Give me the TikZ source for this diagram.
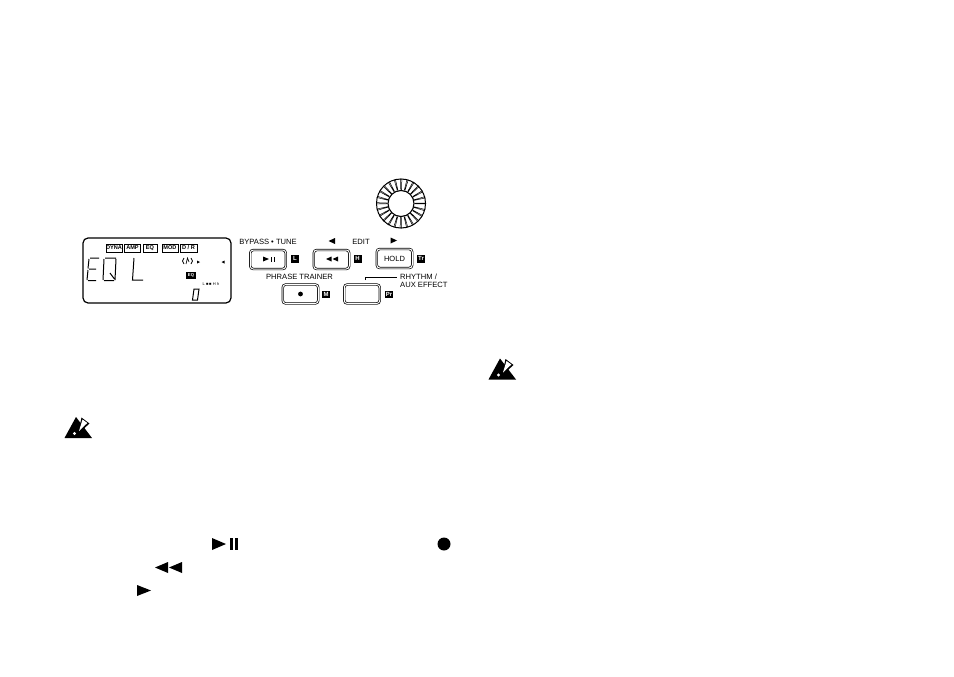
\documentclass[tikz,border=0pt]{standalone}
\usepackage{fontspec}
\setmainfont{Liberation Sans}
\tikzset{
	panelbtn/.style={draw,line width=0.7pt,rounded corners=3pt,minimum width=35.5pt,minimum height=19pt,inner sep=0pt,font=\fontsize{7.5}{8}\selectfont,double,double distance=1pt},
	keytag/.style={fill=black,text=white,minimum width=8pt,minimum height=7.5pt,inner sep=0pt,font=\bfseries\fontsize{6}{6}\selectfont},
	tabbox/.style={draw,line width=0.7pt,minimum height=8pt,inner sep=0pt,font=\bfseries\fontsize{5.6}{5.6}\selectfont},
	paneltext/.style={inner sep=0pt,font=\fontsize{7.6}{8}\selectfont},
	lcdseg/.style={line width=1pt}
}
\begin{document}
\begin{tikzpicture}[x=1pt,y=-1pt]
	\useasboundingbox (0,0) rectangle (954,677);
	% display
	\node[draw,line width=1.2pt,rounded corners=5pt,minimum width=148pt,minimum height=65pt,inner sep=0pt] (lcd) at (157,270.5) {};
	\node[tabbox,minimum width=16pt] (t1) at (114,248) {DYNA};
	\node[tabbox,minimum width=16pt] (t2) at (132.5,248) {AMP};
	\node[tabbox,minimum width=14pt] (t3) at (150,248) {EQ};
	\node[tabbox,minimum width=16pt] (t4) at (170,248) {MOD};
	\node[tabbox,minimum width=17pt] (t5) at (188.5,248) {D / R};
	\node[draw,line width=0.6pt,fill=black,text=white,minimum width=9pt,minimum height=5.5pt,inner sep=0pt,font=\bfseries\fontsize{4.2}{4.2}\selectfont] (eqmark) at (191,275.5) {EQ};
	\node[inner sep=0pt,font=\fontsize{4}{4}\selectfont] (bands) at (211,284.5) {L\,\,■\,■\,\,H\,\,h};
	% segments
	\draw[lcdseg] (90,258) -- (99,258) (89,259) -- (88,268.5) (89,269) -- (96,269) (88,270) -- (87,280) (88,280.5) -- (96,280.5);
	\draw[lcdseg] (105,258) -- (116,258) (104,259) -- (103,280) (116,259) -- (115,280) (104,280.5) -- (114,280.5) (110,273) -- (114.5,279);
	\draw[lcdseg] (134,258) -- (132.5,280) -- (143,280);
	\draw[lcdseg] (194,289) -- (199,289) -- (197.5,300) -- (192.5,300) -- cycle;
	\draw[line width=0.7pt] (184,258) -- (182.5,261) -- (184,264) (186,264) -- (187.5,258) -- (189,262) (191,258) -- (192.5,261) -- (191,264);
	\fill (197,260.5) -- (200,262) -- (197,263.5) -- cycle;
	\fill (224.5,260.5) -- (221.5,262) -- (224.5,263.5) -- cycle;
	% buttons
	\node[panelbtn] (play) at (268,259.5) {};
	\node[panelbtn] (rew) at (331.5,259.5) {};
	\node[panelbtn] (hold) at (394.5,258.5) {HOLD};
	\node[panelbtn] (phrase) at (300.5,294) {};
	\node[panelbtn] (rhythm) at (362,294) {};
	\fill (263,256.5) -- (269,259) -- (263,261.5) -- cycle;
	\fill (271,256.5) rectangle (272,261.5);
	\fill (274,256.5) rectangle (275,261.5);
	\fill (331.5,256.5) -- (326,259) -- (331.5,261.5) -- cycle;
	\fill (338,256.5) -- (332.5,259) -- (338,261.5) -- cycle;
	\fill (phrase.center) circle (2.4pt);
	\node[keytag] (kl) at (295,258.75) {L};
	\node[keytag] (kh) at (357.5,258.75) {H};
	\node[keytag] (ktr) at (421,258.75) {Tr};
	\node[keytag] (km) at (326,294.5) {M};
	\node[keytag] (kpr) at (389,294.5) {Pr};
	% panel text
	\node[paneltext] (bypass) at (268,242) {BYPASS • TUNE};
	\node[paneltext] (edit) at (361,242) {EDIT};
	\node[paneltext] (trainer) at (299.5,277) {PHRASE TRAINER};
	\node[paneltext,anchor=west,align=left] (rhythmlab) at (400,280.5) {RHYTHM /\\AUX EFFECT};
	\coordinate (rhythmtop) at (365,280);
	\coordinate (rhythmend) at (397,277);
	\draw[line width=0.6pt] (rhythmtop) |- (rhythmend);
	\fill (335,238) -- (328.5,241) -- (335,244) -- cycle;
	\fill (390.5,237.5) -- (397,240.5) -- (390.5,243.5) -- cycle;
	% dial
	\node[circle,draw,line width=1pt,minimum size=49pt,inner sep=0pt] (dialout) at (401,203.5) {};
	\node[circle,draw,line width=1.1pt,minimum size=26pt,inner sep=0pt] (dialin) at (401,203.5) {};
	\foreach \ang in {0,15,...,345}
	\draw[line width=0.5pt] (dialin.\ang-1.5) -- (dialout.\ang-1.5) (dialin.\ang+1.5) -- (dialout.\ang+1.5);
	% caution marks
	\foreach \cx/\cy in {64.5/417, 488.5/358.5} {
		\fill (\cx+11.5,\cy) -- (\cx+27.5,\cy+21) -- (\cx,\cy+21) -- cycle;
		\fill (\cx+17,\cy+0.5) -- (\cx+25,\cy+6.5) -- (\cx+13.5,\cy+17) -- cycle;
		\fill[white] (\cx+18,\cy+2.5) -- (\cx+22.8,\cy+6) -- (\cx+14.5,\cy+14) -- cycle;
		\fill[white] (\cx+10,\cy+16.5) circle (1.6pt);
	}
	% symbols in the running text
	\fill (212,538) -- (226,544) -- (212,550) -- cycle;
	\fill (230,538) rectangle (233,550);
	\fill (235,538) rectangle (238,550);
	\node[circle,fill=black,minimum size=13pt,inner sep=0pt] (recdot) at (444,544) {};
	\fill (168,562) -- (155,567.5) -- (168,573) -- cycle;
	\fill (182,562) -- (169,567.5) -- (182,573) -- cycle;
	\fill (137,585) -- (151,590.5) -- (137,596) -- cycle;
\end{tikzpicture}
\end{document}
